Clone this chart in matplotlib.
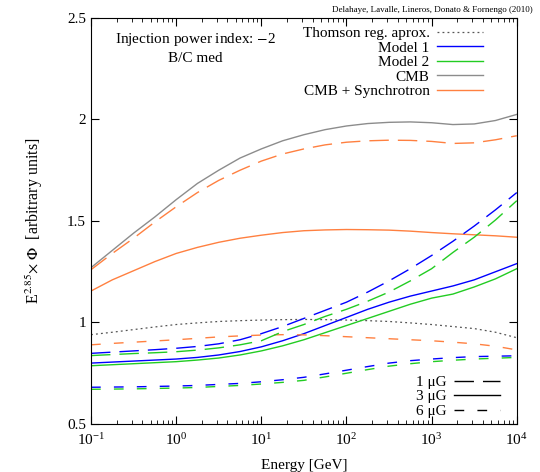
import numpy as np
import matplotlib.pyplot as plt
from matplotlib.lines import Line2D

plt.rcParams['font.family'] = ['Liberation Serif', 'DejaVu Serif']
plt.rcParams['mathtext.fontset'] = 'stix'

# energy grid (GeV), read at quarter decades
logE = [-1, -0.75, -0.5, -0.25, 0, 0.25, 0.5, 0.75, 1, 1.25, 1.5, 1.75,
        2, 2.25, 2.5, 2.75, 3, 3.25, 3.5, 3.75, 4]
energy = [10.0 ** v for v in logE]

thomson = [0.94, 0.952, 0.965, 0.978, 0.99, 0.998, 1.005, 1.009, 1.012, 1.014, 1.015,
           1.014, 1.012, 1.009, 1.005, 0.998, 0.99, 0.98, 0.97, 0.952, 0.925]
cmb = [1.27, 1.355, 1.44, 1.52, 1.605, 1.685, 1.75, 1.81, 1.855, 1.895, 1.925,
       1.95, 1.968, 1.98, 1.986, 1.988, 1.984, 1.975, 1.978, 1.995, 2.025]

# CMB + synchrotron for 1, 3, 6 muG
cs_1 = [1.26, 1.34, 1.415, 1.495, 1.57, 1.64, 1.70, 1.75, 1.795, 1.83, 1.855,
        1.875, 1.888, 1.895, 1.898, 1.897, 1.892, 1.882, 1.885, 1.90, 1.92]
cs_3 = [1.155, 1.21, 1.255, 1.30, 1.34, 1.37, 1.395, 1.415, 1.43, 1.443, 1.452,
        1.456, 1.458, 1.457, 1.455, 1.45, 1.443, 1.437, 1.432, 1.427, 1.42]
cs_6 = [0.89, 0.897, 0.903, 0.909, 0.915, 0.922, 0.929, 0.934, 0.938, 0.94, 0.939,
        0.935, 0.93, 0.925, 0.92, 0.915, 0.91, 0.903, 0.895, 0.883, 0.865]

# Model 1
m1_1 = [0.848, 0.854, 0.86, 0.866, 0.873, 0.882, 0.895, 0.915, 0.945, 0.98, 1.02,
        1.06, 1.10, 1.15, 1.205, 1.265, 1.33, 1.40, 1.475, 1.555, 1.64]
m1_3 = [0.80, 0.805, 0.81, 0.815, 0.82, 0.828, 0.84, 0.857, 0.88, 0.91, 0.945,
        0.985, 1.025, 1.065, 1.10, 1.13, 1.155, 1.18, 1.21, 1.25, 1.29]
m1_6 = [0.681, 0.682, 0.683, 0.685, 0.687, 0.69, 0.695, 0.70, 0.708, 0.718, 0.73,
        0.747, 0.765, 0.783, 0.80, 0.812, 0.82, 0.827, 0.832, 0.834, 0.836]

# Model 2
m2_1 = [0.837, 0.842, 0.847, 0.851, 0.856, 0.864, 0.875, 0.89, 0.91, 0.955, 0.99,
        1.03, 1.065, 1.105, 1.15, 1.205, 1.265, 1.345, 1.42, 1.505, 1.60]
m2_3 = [0.787, 0.792, 0.797, 0.802, 0.807, 0.815, 0.825, 0.84, 0.86, 0.885, 0.915,
        0.95, 0.985, 1.02, 1.055, 1.09, 1.12, 1.14, 1.175, 1.215, 1.265]
m2_6 = [0.671, 0.672, 0.673, 0.675, 0.677, 0.68, 0.685, 0.69, 0.697, 0.705, 0.715,
        0.732, 0.75, 0.768, 0.785, 0.797, 0.807, 0.814, 0.82, 0.824, 0.828]

blue = '#0000ff'
green = '#22cc22'
grey = '#8c8c8c'
orange = '#ff8040'

d1 = (0, (14, 6.5))
d6 = (0, (7, 9.5))

fig = plt.figure(figsize=(5.4, 4.72), dpi=100)
ax = fig.add_axes([0.1685, 0.1017, 0.7885, 0.8602])

lw = 1.0
ax.plot(energy, thomson, color='#555555', lw=0.9, ls=(0, (1.5, 2.5)), label='Thomson reg. aprox.')
ax.plot(energy, m1_3, color=blue, lw=lw, label='Model 1')
ax.plot(energy, m2_3, color=green, lw=lw, label='Model 2')
ax.plot(energy, cmb, color=grey, lw=lw, label='CMB')
ax.plot(energy, cs_3, color=orange, lw=lw, label='CMB + Synchrotron')

ax.plot(energy, cs_1, color=orange, lw=lw, ls=d1)
ax.plot(energy, cs_6, color=orange, lw=lw, ls=d6)
ax.plot(energy, m1_1, color=blue, lw=lw, ls=d1)
ax.plot(energy, m1_6, color=blue, lw=lw, ls=d6)
ax.plot(energy, m2_1, color=green, lw=lw, ls=d1)
ax.plot(energy, m2_6, color=green, lw=lw, ls=d6)

ax.set_xscale('log')
ax.set_xlim(0.1, 1e4)
ax.set_ylim(0.5, 2.5)
ax.set_yticks([0.5, 1, 1.5, 2, 2.5])
ax.set_yticklabels(['0.5', '1', '1.5', '2', '2.5'])
ax.tick_params(which='both', direction='in', top=True, right=True, labelsize=11)
ax.tick_params(which='major', length=6)
ax.tick_params(which='minor', length=3)
ax.tick_params(axis='x', pad=5.5)

ax.set_xlabel('Energy [GeV]', fontsize=11, labelpad=8)
ax.set_ylabel(r'E$^{2.85}$$\times$ $\Phi$  [arbitrary units]', fontsize=11.5, labelpad=16)

leg1 = ax.legend(loc='upper right', bbox_to_anchor=(0.935, 0.994), frameon=False, markerfirst=False,
                 fontsize=11, handlelength=3.0, labelspacing=0.05, borderaxespad=0, handletextpad=0.5)
for t in leg1.get_texts():
    t.set_ha('right')
ax.add_artist(leg1)

handles = [Line2D([], [], color='black', lw=lw, ls=d1),
           Line2D([], [], color='black', lw=lw, ls='-'),
           Line2D([], [], color='black', lw=lw, ls=d6)]
ax.legend(handles, ['1 \u03bcG', '3 \u03bcG', '6 \u03bcG'], loc='lower right', bbox_to_anchor=(0.974, 0.0),
          frameon=False, markerfirst=False, fontsize=11, handlelength=3.0, labelspacing=0.05,
          borderaxespad=0, handletextpad=0.5)

ax.text(0.246, 0.948, 'Injection power index: $-$2', transform=ax.transAxes, ha='center', va='center', fontsize=11)
ax.text(0.246, 0.899, 'B/C med', transform=ax.transAxes, ha='center', va='center', fontsize=11)

fig.text(0.987, 0.978, 'Delahaye, Lavalle, Lineros, Donato & Fornengo (2010)', ha='right', va='center', fontsize=6.5)

fig.savefig('out.png', dpi=100)
